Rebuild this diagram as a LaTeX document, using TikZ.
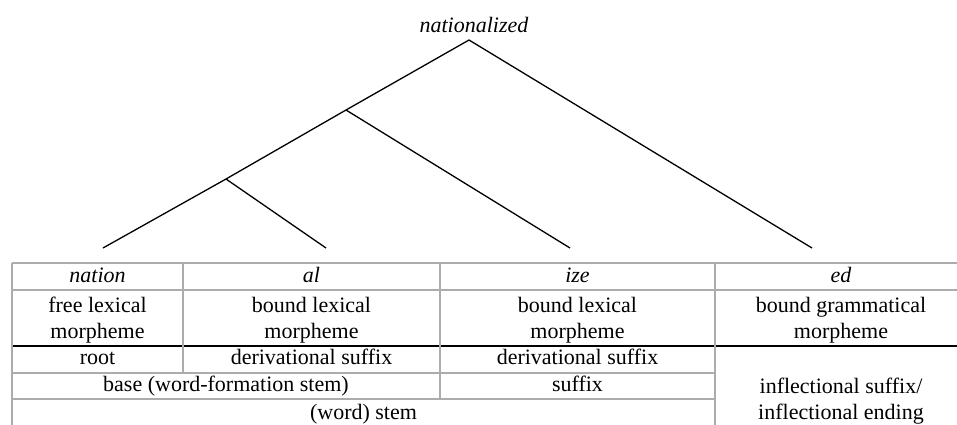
\documentclass[tikz,border=0pt]{standalone}
\usepackage{fontspec}
\setmainfont{Liberation Serif}
\usepackage{tikz}
\usetikzlibrary{positioning}

\begin{document}
\begin{tikzpicture}[x=0.5pt, y=-0.5pt,
    every node/.style={font=\fontsize{11}{13}\selectfont, inner sep=0pt},
    cell/.style={align=center, text height=0.7em, text depth=0.25em},
    cellii/.style={align=center},
    morph/.style={cell, font=\fontsize{11}{13}\selectfont\itshape},
    branch/.style={line width=0.65pt},
    rule/.style={draw=gray!65, line width=0.55pt},
]
\useasboundingbox (0,0) rectangle (957,424);
\clip (0,0) rectangle (957,424);

% tree
\coordinate (top) at (469,40);
\coordinate (mid) at (346,110);
\coordinate (low) at (226,179);
\coordinate (lnation) at (103,248);
\coordinate (lal) at (326,248);
\coordinate (lize) at (570,248);
\coordinate (led) at (812,248);
\node[above=3.5pt of top, xshift=2.5pt, font=\fontsize{11}{13}\selectfont\itshape] (word) {nationalized};

\draw[branch] (lnation) -- (low) -- (mid) -- (top) -- (led);
\draw[branch] (low) -- (lal);
\draw[branch] (mid) -- (lize);

% table rules
\draw[rule] (12,263) -- (975,263);
\draw[rule] (12,290) -- (975,290);
\draw[line width=0.6pt] (12,346) -- (975,346);
\draw[rule] (12,373) -- (715,373);
\draw[rule] (12,399) -- (715,399);
\draw[rule] (12,263) -- (12,440);
\draw[rule] (183,263) -- (183,373);
\draw[rule] (440,263) -- (440,399);
\draw[rule] (715,263) -- (715,440);

% cells
\node[morph] (nation) at (97.5,278) {nation};
\node[morph] (al) at (311.5,278) {al};
\node[morph] (ize) at (577.5,278) {ize};
\node[morph] (ed) at (841,278) {ed};

\node[cellii] (free) at (97.5,320) {free lexical\\morpheme};
\node[cellii] (boundal) at (311.5,320) {bound lexical\\morpheme};
\node[cellii] (boundize) at (577.5,320) {bound lexical\\morpheme};
\node[cellii] (gram) at (841,320) {bound grammatical\\morpheme};

\node[cell] (root) at (97.5,360) {root};
\node[cell] (deral) at (311.5,360) {derivational suffix};
\node[cell] (derize) at (577.5,360) {derivational suffix};
\node[cell] (base) at (226,387) {base (word-formation stem)};
\node[cell] (suffix) at (577.5,387) {suffix};
\node[cell] (stem) at (363.5,415) {(word) stem};
\node[cellii] (infl) at (841,401.5) {inflectional suffix/\\inflectional ending};
\end{tikzpicture}
\end{document}
